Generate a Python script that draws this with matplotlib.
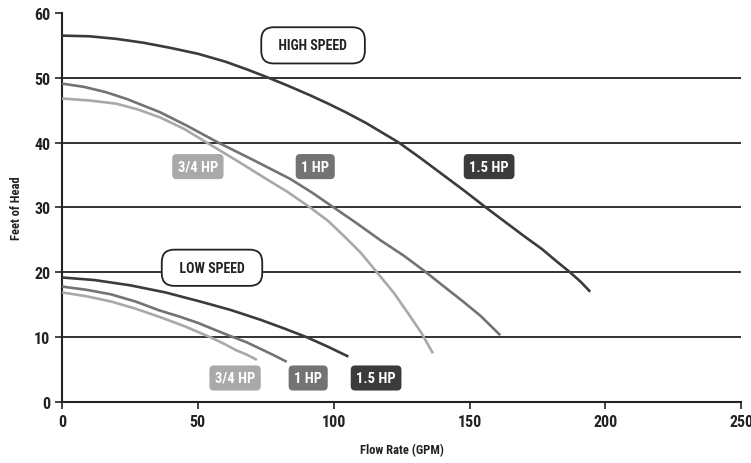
import matplotlib
matplotlib.use("Agg")
import matplotlib.pyplot as plt
from matplotlib import font_manager

# pick the narrowest bold face that is installed
names = {f.name for f in font_manager.fontManager.ttflist}
font = "DejaVu Sans"
for cand in ["Roboto Condensed", "Liberation Sans Narrow", "Roboto"]:
    if cand in names:
        font = cand
        break
plt.rcParams["font.family"] = [font, "DejaVu Sans"]
plt.rcParams["font.weight"] = "bold"

# high speed curves (GPM, feet of head)
hi_15_x = [0, 10, 20, 30, 40, 50, 60, 68, 75.4, 83, 91.3, 98, 104.8, 112, 118, 124,
           132, 140, 148, 156, 163, 170, 176.6, 182, 187, 191, 194.4]
hi_15_y = [56.5, 56.4, 56.0, 55.4, 54.6, 53.7, 52.5, 51.3, 50.1, 48.8, 47.3, 46.0, 44.6,
           43.0, 41.5, 40.0, 37.6, 35.1, 32.6, 30.0, 27.8, 25.6, 23.6, 21.7, 20.0, 18.5, 17.0]
hi_1_x = [0, 8, 16, 24, 36, 46, 57.5, 70, 84, 92, 100, 108, 117, 126, 134, 140, 147, 154, 161.3]
hi_1_y = [49.1, 48.6, 47.8, 46.7, 44.7, 42.6, 40.0, 37.4, 34.4, 32.3, 30.0, 27.7, 25.0,
          22.5, 20.0, 18.0, 15.7, 13.3, 10.3]
hi_34_x = [0, 10, 20, 28, 36, 45, 53.3, 64, 74, 83, 91.3, 98, 104, 110, 115.9, 122,
           128, 132.5, 136.5]
hi_34_y = [46.8, 46.5, 46.0, 45.1, 43.9, 42.1, 40.0, 37.3, 34.7, 32.4, 30.0, 27.9, 25.5,
           23.0, 20.0, 16.9, 13.3, 10.5, 7.5]

# low speed curves
lo_15_x = [0, 12, 25, 38, 50.8, 62, 72.9, 82, 90, 98, 105.4]
lo_15_y = [19.2, 18.8, 18.0, 16.9, 15.5, 14.2, 12.7, 11.3, 10.0, 8.5, 7.0]
lo_1_x = [0, 9, 18, 27, 36, 43, 50, 57, 63, 68, 73, 78, 82.7]
lo_1_y = [17.8, 17.3, 16.6, 15.5, 14.1, 13.2, 12.2, 11.0, 10.0, 9.2, 8.2, 7.2, 6.2]
lo_34_x = [0, 9, 18, 27, 36, 45, 54.5, 60, 64, 68, 71.7]
lo_34_y = [16.9, 16.3, 15.5, 14.4, 13.1, 11.7, 10.0, 8.9, 8.0, 7.3, 6.5]

hp_names = ["3/4 HP", "1 HP", "1.5 HP"]
hp_colors = ["#a9a9a9", "#737373", "#3b3b3b"]
hi_label_x = [50, 93.2, 157.2]
hi_label_y = 36.3
lo_label_x = [63.7, 90.6, 115.6]
lo_label_y = 3.7

fig = plt.figure(figsize=(7.51, 4.64), dpi=100)
ax = fig.add_axes([0.0826, 0.1315, 0.9044, 0.8385])

for y in [10, 20, 30, 40, 50]:
    ax.axhline(y, color="#222222", lw=1.3, zorder=1)

curves = [(hi_34_x, hi_34_y, 0), (hi_1_x, hi_1_y, 1), (hi_15_x, hi_15_y, 2),
          (lo_34_x, lo_34_y, 0), (lo_1_x, lo_1_y, 1), (lo_15_x, lo_15_y, 2)]
for xs, ys, i in curves:
    ax.plot(xs, ys, color=hp_colors[i], lw=1.9, solid_capstyle="butt",
            solid_joinstyle="round", zorder=3)

for i in range(3):
    for lx, ly in [(hi_label_x[i], hi_label_y), (lo_label_x[i], lo_label_y)]:
        ax.text(lx, ly, hp_names[i], color="white", fontsize=10.5, fontweight="bold",
                ha="center", va="center", zorder=5,
                bbox=dict(boxstyle="round,pad=0.38,rounding_size=0.3",
                          fc=hp_colors[i], ec="none"))

for txt, x, y in [("HIGH SPEED", 92.4, 55.0), ("LOW SPEED", 55.2, 20.7)]:
    ax.text(x, y, "  " + txt + "  ", color="#222222", fontsize=10, fontweight="bold",
            ha="center", va="center", zorder=5,
            bbox=dict(boxstyle="round,pad=0.8,rounding_size=0.9",
                      fc="white", ec="#222222", lw=1.3))

ax.set_xlim(0, 250)
ax.set_ylim(0, 60)
ax.set_xticks([0, 50, 100, 150, 200, 250])
ax.set_yticks([0, 10, 20, 30, 40, 50, 60])
ax.spines["top"].set_visible(False)
ax.spines["right"].set_visible(False)
for s in ["left", "bottom"]:
    ax.spines[s].set_color("#222222")
    ax.spines[s].set_linewidth(1.5)
ax.tick_params(direction="out", length=5, width=1.2, color="#222222",
               labelsize=11.5, labelcolor="#222222")
for lab in ax.get_xticklabels() + ax.get_yticklabels():
    lab.set_fontweight("bold")
ax.set_xlabel("Flow Rate (GPM)", fontsize=9, fontweight="bold", color="#222222")
ax.set_ylabel("Feet of Head", fontsize=9, fontweight="bold", color="#222222")
ax.xaxis.set_label_coords(0.5, -0.105)
ax.yaxis.set_label_coords(-0.058, 0.5)

fig.savefig("out.png", dpi=100)
